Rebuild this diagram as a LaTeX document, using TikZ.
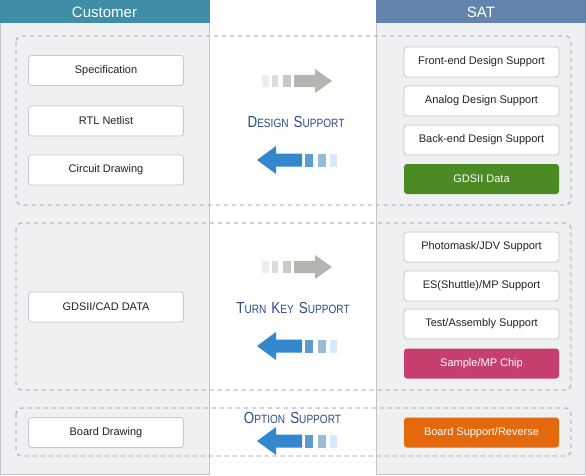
\documentclass[tikz,border=0pt]{standalone}
\usepackage{fontspec}
\usepackage{graphicx}
\setmainfont{Liberation Sans}
\definecolor{panelfill}{HTML}{EFF0F2}
\definecolor{panelline}{HTML}{C4C4CC}
\definecolor{custhead}{HTML}{3F8DA6}
\definecolor{sathead}{HTML}{6384AD}
\definecolor{dashcol}{HTML}{B9B9C6}
\definecolor{boxline}{HTML}{C6C6CE}
\definecolor{boxtext}{HTML}{222222}
\definecolor{greenbox}{HTML}{4C8A23}
\definecolor{pinkbox}{HTML}{C63F6E}
\definecolor{orangebox}{HTML}{E4690C}
\definecolor{gA}{HTML}{EDEDED}
\definecolor{gB}{HTML}{DCDCDA}
\definecolor{gC}{HTML}{C8CAC5}
\definecolor{gD}{HTML}{B3B5AF}
\definecolor{bA}{HTML}{3387CD}
\definecolor{bB}{HTML}{5E9CD0}
\definecolor{bC}{HTML}{95BBD9}
\definecolor{bD}{HTML}{D5E9FB}
\definecolor{titlecol}{HTML}{2B4C8C}
\newcommand{\bigL}[1]{{\fontsize{16}{16}\selectfont #1}}
\newcommand{\smL}[1]{{\fontsize{12}{12}\selectfont #1}}
\newcommand{\wsp}{\hspace{6pt}}
\begin{document}
\begin{tikzpicture}[x=1pt,y=-1pt,
  panel/.style={fill=panelfill,draw=panelline,line width=0.8pt},
  grp/.style={draw=dashcol,line width=1.4pt,dash pattern=on 4pt off 4pt,rounded corners=6pt},
  wbox/.style={draw=boxline,fill=white,line width=0.8pt,rounded corners=3pt,minimum width=155pt,minimum height=30pt,inner sep=0pt,font=\fontsize{11}{13}\selectfont,text=boxtext},
  cbox/.style={wbox,draw=none,text=white},
  headtxt/.style={text=white,font=\fontsize{15}{17}\selectfont},
  ttl/.style={text=titlecol,inner sep=0pt},
  grayarrow/.pic={
    \fill[gA] (262,-6.2) rectangle (268.5,6.2);
    \fill[gB] (271.5,-6.2) rectangle (278,6.2);
    \fill[gC] (283,-6.2) rectangle (290.5,6.2);
    \fill[gD] (294,-6.2) -- (315,-6.2) -- (315,-12) -- (332,0) -- (315,12) -- (315,6.2) -- (294,6.2) -- cycle;
  },
  bluearrow/.pic={
    \fill[bA] (302,-6.5) -- (276,-6.5) -- (276,-14) -- (257,0) -- (276,14) -- (276,6.5) -- (302,6.5) -- cycle;
    \fill[bB] (304.5,-6.5) rectangle (313,6.5);
    \fill[bC] (318,-6.5) rectangle (326,6.5);
    \fill[bD] (330,-6.5) rectangle (337,6.5);
  }]
\useasboundingbox (0,0) rectangle (586,475);
\fill[white] (0,0) rectangle (586,475);
% panels
\draw[panel] (0.5,22) rectangle (209.5,474.5);
\draw[panel] (376.5,22) rectangle (585.5,474.5);
\fill[custhead] (0,0) rectangle (210,23);
\fill[sathead] (376,0) rectangle (586,23);
\node[headtxt] (custh) at (104.5,12) {Customer};
\node[headtxt] (sath) at (481,12) {SAT};
% dashed groups
\draw[grp] (16,36) rectangle (571,205);
\draw[grp] (16,223) rectangle (571,390);
\draw[grp] (16,408) rectangle (571,456);
% customer boxes
\node[wbox] (spec) at (106,70.5) {Specification};
\node[wbox] (rtl) at (106,121) {RTL Netlist};
\node[wbox] (circ) at (106,170) {Circuit Drawing};
\node[wbox] (cad) at (106,307) {GDSII/CAD DATA};
\node[wbox] (board) at (106,432.5) {Board Drawing};
% SAT boxes
\node[wbox] (front) at (481.5,62) {Front-end Design Support};
\node[wbox] (analog) at (481.5,101) {Analog Design Support};
\node[wbox] (back) at (481.5,140) {Back-end Design Support};
\node[cbox,fill=greenbox] (gds) at (481.5,179) {GDSII Data};
\node[wbox] (photo) at (481.5,247) {Photomask/JDV Support};
\node[wbox] (es) at (481.5,286) {ES(Shuttle)/MP Support};
\node[wbox] (test) at (481.5,324) {Test/Assembly Support};
\node[cbox,fill=pinkbox] (sample) at (481.5,363.5) {Sample/MP Chip};
\node[cbox,fill=orangebox] (bsup) at (481.5,432.5) {Board Support/Reverse};
% arrows
\pic at (0,81) {grayarrow};
\pic at (0,160) {bluearrow};
\pic at (0,267) {grayarrow};
\pic at (0,346) {bluearrow};
\pic at (0,441) {bluearrow};
% titles
\node[ttl] (t1) at (296,122) {\scalebox{0.84}[1]{\bigL{D}\smL{ESIGN}\wsp\bigL{S}\smL{UPPORT}}};
\node[ttl] (t2) at (293,308) {\scalebox{0.84}[1]{\bigL{T}\smL{URN}\wsp\bigL{K}\smL{EY}\wsp\bigL{S}\smL{UPPORT}}};
\node[ttl] (t3) at (292.5,418) {\scalebox{0.84}[1]{\bigL{O}\smL{PTION}\wsp\bigL{S}\smL{UPPORT}}};
\end{tikzpicture}
\end{document}
